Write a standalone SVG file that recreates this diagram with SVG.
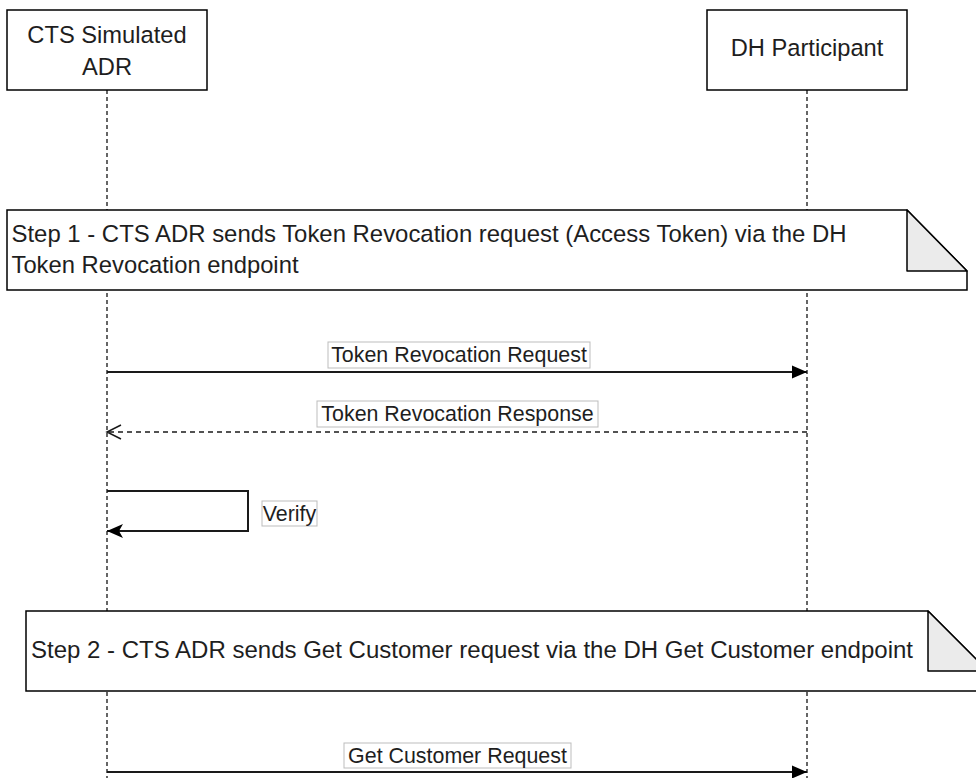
<svg xmlns="http://www.w3.org/2000/svg" width="976" height="778" viewBox="0 0 976 778">
  <style>
    .box { fill: #ffffff; stroke: #000000; stroke-width: 1.5; }
    .fold { fill: #ebebeb; stroke: #000000; stroke-width: 1.5; stroke-linejoin: round; }
    .life { fill: none; stroke: #000000; stroke-width: 1.2; stroke-dasharray: 4 3; }
    .t { font-family: "Liberation Sans", Arial, sans-serif; fill: #1e1e1e; }
    .big { font-size: 23.7px; }
    .lbl { font-size: 21.4px; text-anchor: middle; }
    .lblbox { fill: #ffffff; stroke: #bdbdbd; stroke-width: 1; }
    .msg { fill: none; stroke: #1a1a1a; stroke-width: 2; }
    .dash { fill: none; stroke: #1a1a1a; stroke-width: 1.5; stroke-dasharray: 5 4; }
  </style>
  <defs>
    <marker id="block" markerUnits="userSpaceOnUse" markerWidth="15" markerHeight="13" refX="15" refY="6.5" orient="auto" overflow="visible">
      <path d="M0,0 L15,6.5 L0,13 Z" fill="#000000"/>
    </marker>
    <marker id="open" markerUnits="userSpaceOnUse" markerWidth="14" markerHeight="14" refX="14" refY="7" orient="auto" overflow="visible">
      <path d="M0,0 L14,7 L0,14" fill="none" stroke="#1a1a1a" stroke-width="1.5"/>
    </marker>
    <marker id="classic" markerUnits="userSpaceOnUse" markerWidth="16" markerHeight="14" refX="16" refY="7" orient="auto" overflow="visible">
      <path d="M0,0 L16,7 L0,14 L4,7 Z" fill="#000000"/>
    </marker>
  </defs>

  <rect width="976" height="778" fill="#ffffff"/>

  <g id="lifelines">
    <line class="life" x1="107" y1="90" x2="107" y2="778"/>
    <line class="life" x1="807" y1="90" x2="807" y2="778"/>
  </g>

  <g id="node-cts-adr">
    <rect class="box" x="7" y="10" width="200" height="80"/>
    <text class="t big" x="107" y="43" text-anchor="middle">CTS Simulated</text>
    <text class="t big" x="107" y="75" text-anchor="middle">ADR</text>
  </g>

  <g id="node-dh-participant">
    <rect class="box" x="707" y="10" width="200" height="80"/>
    <text class="t big" x="807" y="56" text-anchor="middle">DH Participant</text>
  </g>

  <g id="note-step1">
    <path class="box" d="M7,210 L907,210 L967,271 L967,290 L7,290 Z"/>
    <path class="fold" d="M907,210 L907,271 L967,271 Z"/>
    <text class="t big" x="11.5" y="241.5" textLength="835" lengthAdjust="spacingAndGlyphs">Step 1 - CTS ADR sends Token Revocation request (Access Token) via the DH</text>
    <text class="t big" x="11.5" y="273" textLength="287" lengthAdjust="spacingAndGlyphs">Token Revocation endpoint</text>
  </g>

  <g id="note-step2">
    <path class="box" d="M26,611 L928,611 L988,671 L988,691 L26,691 Z"/>
    <path class="fold" d="M928,611 L928,671 L988,671 Z"/>
    <text class="t big" x="31" y="658" textLength="882" lengthAdjust="spacingAndGlyphs">Step 2 - CTS ADR sends Get Customer request via the DH Get Customer endpoint</text>
  </g>

  <g id="connectors">
    <g id="msg-token-revocation-request">
      <line class="msg" x1="107" y1="372" x2="807" y2="372" marker-end="url(#block)"/>
      <rect class="lblbox" x="328" y="342" width="262" height="26"/>
      <text class="t lbl" x="459" y="362">Token Revocation Request</text>
    </g>
    <g id="msg-token-revocation-response">
      <line class="dash" x1="807" y1="432" x2="107" y2="432" marker-end="url(#open)"/>
      <rect class="lblbox" x="317" y="401" width="281" height="26"/>
      <text class="t lbl" x="457.5" y="421">Token Revocation Response</text>
    </g>
    <g id="msg-verify">
      <path class="msg" d="M107,491 L248,491 L248,531 L107,531" marker-end="url(#classic)"/>
      <rect class="lblbox" x="262" y="501" width="55" height="25"/>
      <text class="t lbl" x="289.5" y="520.5">Verify</text>
    </g>
    <g id="msg-get-customer-request">
      <line class="msg" x1="107" y1="772" x2="807" y2="772" marker-end="url(#block)"/>
      <rect class="lblbox" x="344" y="743" width="227" height="25"/>
      <text class="t lbl" x="457.5" y="763">Get Customer Request</text>
    </g>
  </g>
</svg>
